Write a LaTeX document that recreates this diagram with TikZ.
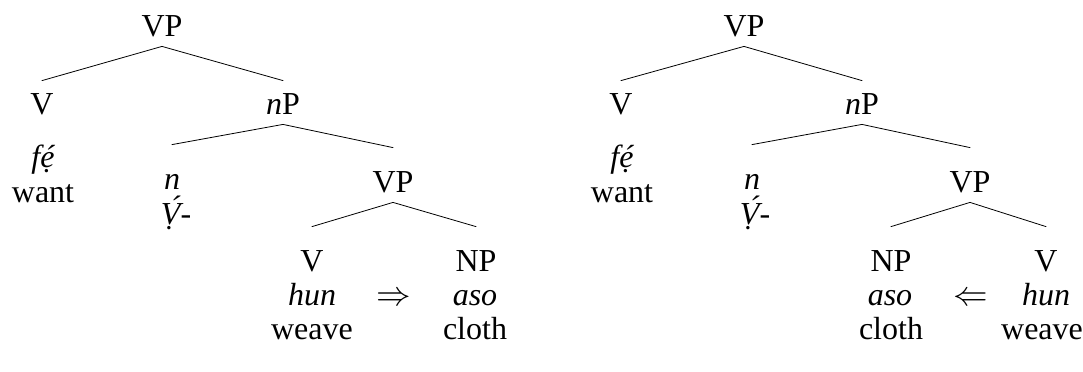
\documentclass[tikz,border=0pt]{standalone}
\usepackage{fontspec}
\setmainfont{Liberation Serif}
\newcommand{\fetone}{f\rlap{\kern0.12em\char"00B4}ẹ}
\tikzset{
  cat/.style={inner sep=0pt, anchor=base, text height=16.5pt, text depth=5pt},
  low/.style={cat, text height=22pt},
  gloss/.style={inner sep=0pt, anchor=base},
}
\begin{document}
\begin{tikzpicture}[x=0.5pt, y=-0.5pt, font=\fontsize{16}{19}\selectfont, line join=round, line cap=round]
\useasboundingbox (0,0) rectangle (1083,371);
% left tree
\node[cat] (avp) at (162,36) {VP};
\node[cat] (av) at (42,114) {V};
\node[cat] (anp) at (283,114) {\textit{n}P};
\node[gloss] (afe) at (43,167) {\textit{\fetone}};
\node[gloss] (awant) at (43,202) {want};
\node[low] (an) at (172,189) {\textit{n}};
\node[gloss] (aV) at (176,224) {\textit{Ṿ́}-};
\node[low] (avpp) at (393,192) {VP};
\node[low] (avv) at (312,271) {V};
\node[low] (annp) at (476,271) {NP};
\node[gloss] (ahun) at (312,305) {\textit{hun}};
\node[gloss] (aarr) at (394,305) {$\Rightarrow$};
\node[gloss] (aaso) at (475,305) {\textit{aso}};
\node[gloss] (aweave) at (312,339) {weave};
\node[gloss] (acloth) at (475,339) {cloth};
\draw (avp.south) -- (av.north) (avp.south) -- (anp.north);
\draw (anp.south) -- (an.north) (anp.south) -- (avpp.north);
\draw (avpp.south) -- (avv.north) (avpp.south) -- (annp.north);
% right tree
\node[cat] (bvp) at (744,36) {VP};
\node[cat] (bv) at (621,114) {V};
\node[cat] (bnp) at (862,114) {\textit{n}P};
\node[gloss] (bfe) at (622,167) {\textit{\fetone}};
\node[gloss] (bwant) at (622,202) {want};
\node[low] (bn) at (752,189) {\textit{n}};
\node[gloss] (bV) at (755,224) {\textit{Ṿ́}-};
\node[low] (bvpp) at (970,192) {VP};
\node[low] (bnnp) at (891,271) {NP};
\node[low] (bvv) at (1046,271) {V};
\node[gloss] (baso) at (890,305) {\textit{aso}};
\node[gloss] (barr) at (971,305) {$\Leftarrow$};
\node[gloss] (bhun) at (1046,305) {\textit{hun}};
\node[gloss] (bcloth) at (891,339) {cloth};
\node[gloss] (bweave) at (1042,339) {weave};
\draw (bvp.south) -- (bv.north) (bvp.south) -- (bnp.north);
\draw (bnp.south) -- (bn.north) (bnp.south) -- (bvpp.north);
\draw (bvpp.south) -- (bnnp.north) (bvpp.south) -- (bvv.north);
\end{tikzpicture}
\end{document}
